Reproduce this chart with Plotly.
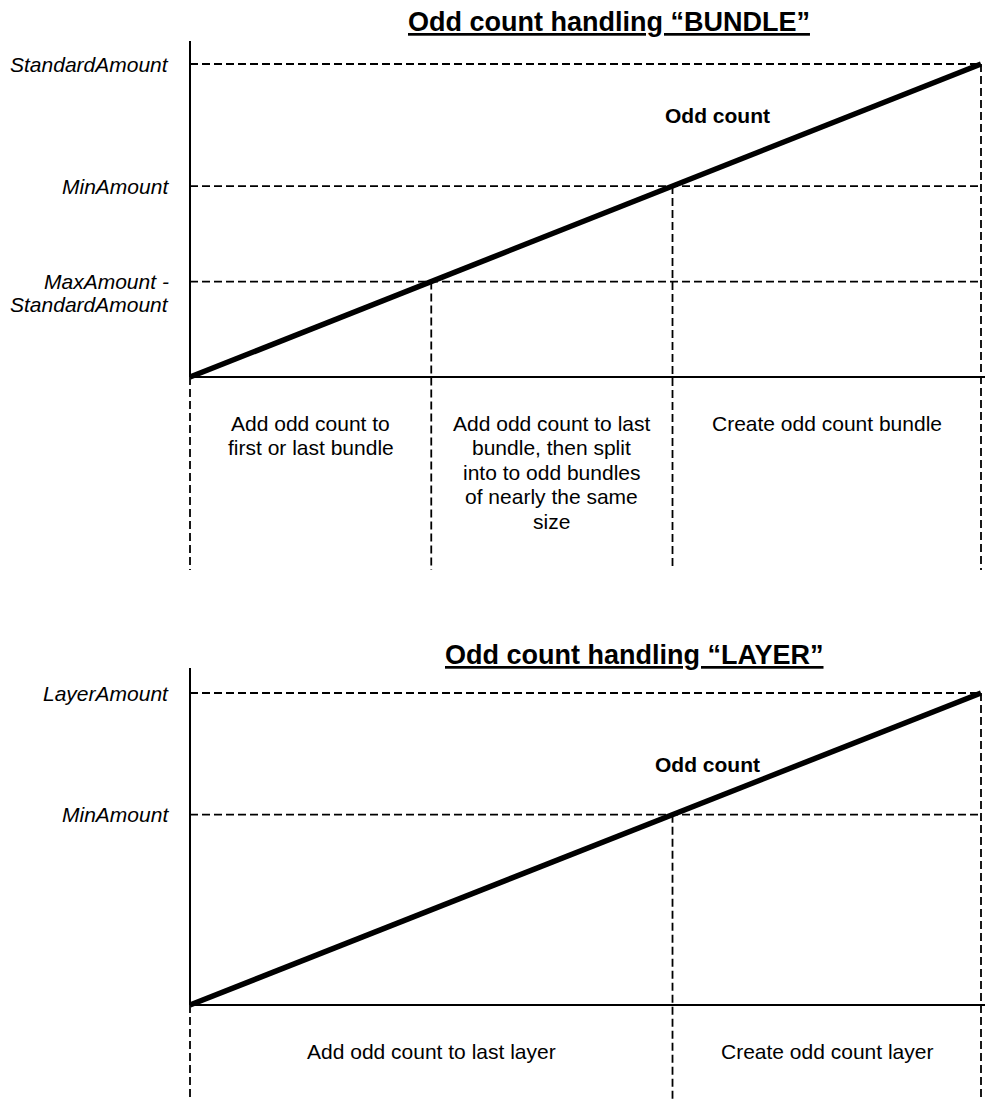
import numpy as np
import plotly.graph_objects as go

# ---------------- data ----------------
# Top diagram: odd count handling "BUNDLE"
bundle_title = "Odd count handling \u201cBUNDLE\u201d"
bundle_line_x = [0, 100]
bundle_line_y = [0, 100]
bundle_levels = [100, 61, 30.5]
bundle_level_labels = ["StandardAmount", "MinAmount", "MaxAmount -<br>StandardAmount"]
bundle_splits = [0, 30.5, 61, 100]
bundle_regions = [
    "Add odd count to<br>first or last bundle",
    "Add odd count to last<br>bundle, then split<br>into to odd bundles<br>of nearly the same<br>size",
    "Create odd count bundle",
]
bundle_curve_label = "Odd count"
bundle_curve_label_xy = [66.7, 83.7]

# Bottom diagram: odd count handling "LAYER"
layer_title = "Odd count handling \u201cLAYER\u201d"
layer_line_x = [0, 100]
layer_line_y = [0, 100]
layer_levels = [100, 61]
layer_level_labels = ["LayerAmount", "MinAmount"]
layer_splits = [0, 61, 100]
layer_regions = ["Add odd count to last layer", "Create odd count layer"]
layer_curve_label = "Odd count"
layer_curve_label_xy = [65.4, 77.2]

# ---------------- layout helpers ----------------
OFF = 8  # default page body margin
W, H = 993 - OFF, 1099 - OFF
FONT = "Liberation Sans, Arial, sans-serif"
X0_PX, X100_PX = 190 - OFF, 981 - OFF
TOP_Y0_PX, TOP_Y100_PX = 377 - OFF, 64 - OFF
BOT_Y0_PX, BOT_Y100_PX = 1005 - OFF, 693 - OFF

sx = (X100_PX - X0_PX) / 100.0
x_range = [-X0_PX / sx, -X0_PX / sx + W / sx]


def y_range(p0, p100):
    f0 = 1 - p0 / H
    f1 = 1 - p100 / H
    span = 100.0 / (f1 - f0)
    r0 = -f0 * span
    return [r0, r0 + span]


top_yr = y_range(TOP_Y0_PX, TOP_Y100_PX)
bot_yr = y_range(BOT_Y0_PX, BOT_Y100_PX)
top_sy = (TOP_Y0_PX - TOP_Y100_PX) / 100.0
bot_sy = (BOT_Y0_PX - BOT_Y100_PX) / 100.0

fig = go.Figure()
DASH = "8px,4px"


def add_diagram(yaxis, line_x, line_y, levels, splits, sy, y0px, axis_top_px, dash_bottom_px):
    axis_top = (y0px - axis_top_px) / sy
    dash_bottom = (y0px - dash_bottom_px) / sy
    # horizontal dashed guides
    for lv in levels:
        fig.add_trace(go.Scatter(x=[line_x[0], line_x[-1]], y=[lv, lv], mode="lines",
                                 line=dict(color="black", width=1.8, dash=DASH),
                                 yaxis=yaxis, hoverinfo="skip", showlegend=False))
    # vertical dashed guides
    for sp in splits:
        ytop = float(np.interp(sp, line_x, line_y))
        fig.add_trace(go.Scatter(x=[sp, sp], y=[ytop, dash_bottom], mode="lines",
                                 line=dict(color="black", width=1.8, dash=DASH),
                                 yaxis=yaxis, hoverinfo="skip", showlegend=False))
    # axes
    fig.add_trace(go.Scatter(x=[0, 0], y=[0, axis_top], mode="lines",
                             line=dict(color="black", width=2),
                             yaxis=yaxis, hoverinfo="skip", showlegend=False))
    fig.add_trace(go.Scatter(x=[0, x_range[1]], y=[0, 0], mode="lines",
                             line=dict(color="black", width=2),
                             yaxis=yaxis, hoverinfo="skip", showlegend=False))
    # thick line
    fig.add_trace(go.Scatter(x=line_x, y=line_y, mode="lines",
                             line=dict(color="black", width=5.5),
                             yaxis=yaxis, hoverinfo="skip", showlegend=False))


add_diagram("y", bundle_line_x, bundle_line_y, bundle_levels, bundle_splits,
            top_sy, TOP_Y0_PX, 41 - OFF, 570 - OFF)
add_diagram("y2", layer_line_x, layer_line_y, layer_levels, layer_splits,
            bot_sy, BOT_Y0_PX, 668 - OFF, 1110)

ann = []
LINE_PX = 24.5


def add_multiline(text, x, y, yref, size=21, bold=False, italic=False, xref="x",
                  xanchor="center", spacing=LINE_PX):
    for i, ln in enumerate(text.split("<br>")):
        t = ln
        if bold:
            t = "<b>" + t + "</b>"
        if italic:
            t = "<i>" + t + "</i>"
        ann.append(dict(x=x, y=y, xref=xref, yref=yref, text=t, showarrow=False,
                        xanchor=xanchor, yanchor="middle", yshift=-i * spacing,
                        font=dict(family=FONT, size=size, color="black")))


# titles
ann.append(dict(x=(609 - OFF) / W, y=1 - (22 - OFF) / H, xref="paper", yref="paper",
                text="<u><b>" + bundle_title + "</b></u>", showarrow=False,
                xanchor="center", yanchor="middle",
                font=dict(family=FONT, size=27, color="black")))
ann.append(dict(x=(634 - OFF) / W, y=1 - (655 - OFF) / H, xref="paper", yref="paper",
                text="<u><b>" + layer_title + "</b></u>", showarrow=False,
                xanchor="center", yanchor="middle",
                font=dict(family=FONT, size=27, color="black")))

# level labels
for lv, lab in zip(bundle_levels, bundle_level_labels):
    add_multiline(lab, (171 - OFF) / W, lv, "y", italic=True, xref="paper", xanchor="right", spacing=23)
for lv, lab in zip(layer_levels, layer_level_labels):
    add_multiline(lab, (171 - OFF) / W, lv, "y2", italic=True, xref="paper", xanchor="right", spacing=23)

# region labels
text_y_top = -(423 - OFF - TOP_Y0_PX) / top_sy
for a, b, lab in zip(bundle_splits[:-1], bundle_splits[1:], bundle_regions):
    add_multiline(lab, (a + b) / 2, text_y_top, "y")
text_y_bot = -(1051 - OFF - BOT_Y0_PX) / bot_sy
for a, b, lab in zip(layer_splits[:-1], layer_splits[1:], layer_regions):
    add_multiline(lab, (a + b) / 2, text_y_bot, "y2")

# curve labels
add_multiline(bundle_curve_label, bundle_curve_label_xy[0], bundle_curve_label_xy[1], "y", bold=True)
add_multiline(layer_curve_label, layer_curve_label_xy[0], layer_curve_label_xy[1], "y2", bold=True)

fig.update_layout(
    width=W, height=H,
    margin=dict(l=0, r=0, t=0, b=0),
    paper_bgcolor="white", plot_bgcolor="white",
    showlegend=False,
    xaxis=dict(range=x_range, domain=[0, 1], visible=False, fixedrange=True),
    yaxis=dict(range=top_yr, domain=[0, 1], visible=False, fixedrange=True),
    yaxis2=dict(range=bot_yr, domain=[0, 1], visible=False, overlaying="y",
                anchor="x", fixedrange=True),
    annotations=ann,
)

fig.write_html("out.html")
